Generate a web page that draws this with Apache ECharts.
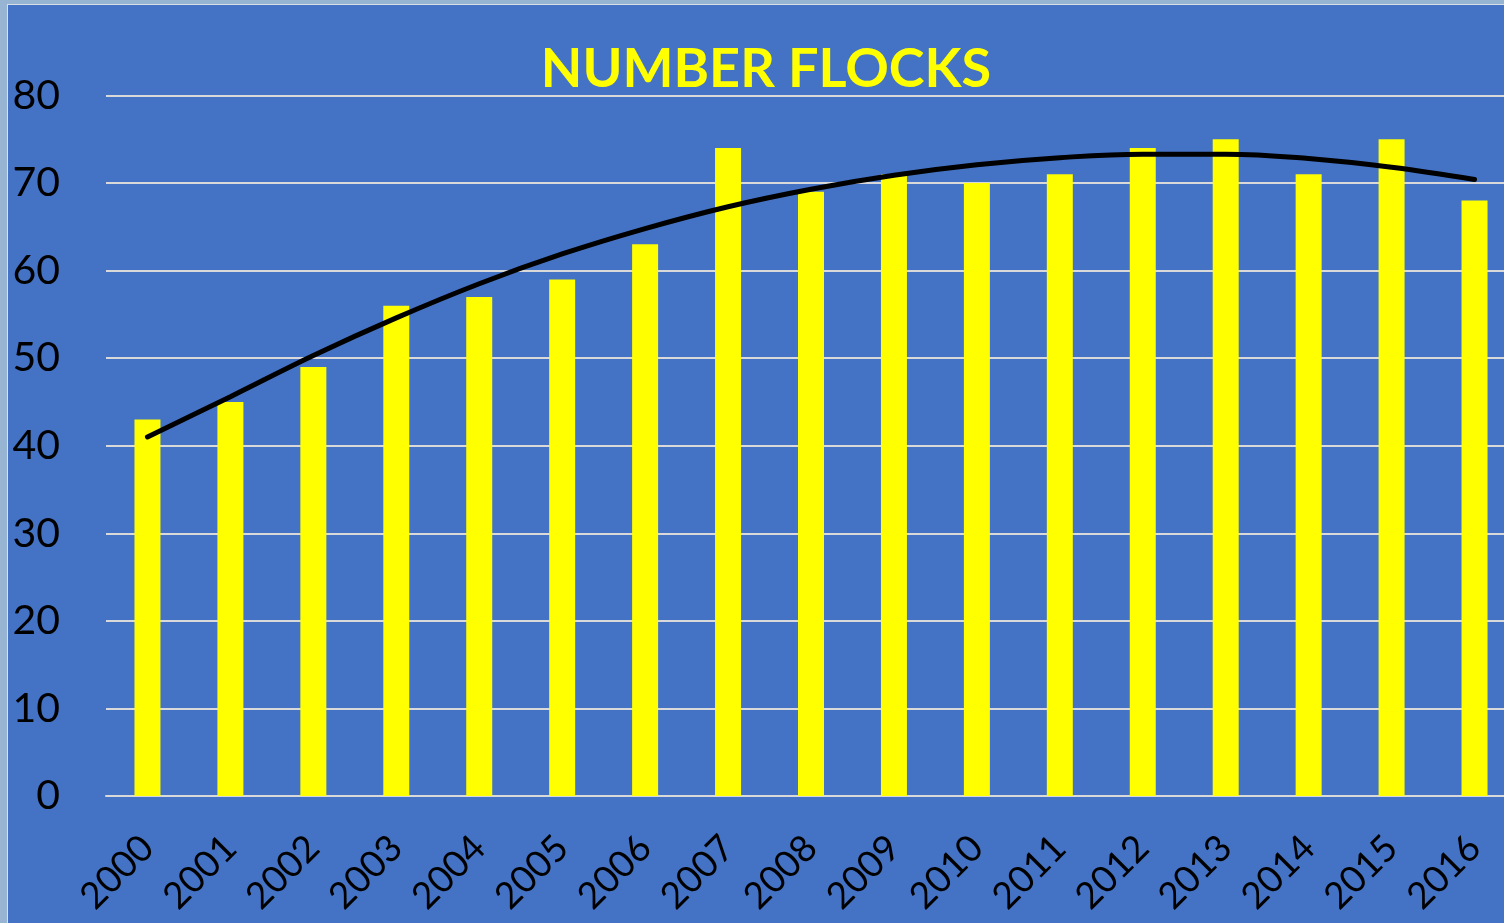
<!DOCTYPE html>
<html>
<head>
<meta charset="utf-8">
<script src="https://cdn.jsdelivr.net/npm/echarts@6/dist/echarts.min.js"></script>
<style>
  html, body { margin: 0; padding: 0; width: 1504px; height: 923px; overflow: hidden; background: #98b4d3; }
  #frame { position: absolute; left: 7px; top: 4px; width: 1530px; height: 930px; background: #d9dfe7; }
  #chart { position: absolute; left: 1px; top: 1px; width: 1529px; height: 929px; background: #4472C4; }
</style>
</head>
<body>
<div id="frame"><div id="chart"></div></div>
<script>
const categories = ['2000','2001','2002','2003','2004','2005','2006','2007','2008','2009','2010','2011','2012','2013','2014','2015','2016'];
const flocks = [43, 45, 49, 56, 57, 59, 63, 74, 69, 71, 70, 71, 74, 75, 71, 75, 68];
const trend = [41.0, 45.6, 50.3, 54.6, 58.5, 61.9, 64.8, 67.3, 69.3, 70.9, 72.1, 72.9, 73.3, 73.3, 72.8, 71.8, 70.4];
const yTicks = { min: 0, max: 80, interval: 10 };
const titleText = 'NUMBER FLOCKS';

const chart = echarts.init(document.getElementById('chart'), null, { renderer: 'canvas' });
chart.setOption({
  backgroundColor: '#4472C4',
  animation: false,
  title: {
    text: titleText,
    left: 753,
    top: 33,
    textAlign: 'center',
    textStyle: { color: '#FFFF00', fontFamily: 'Lato', fontWeight: 'bold', fontSize: 54 }
  },
  grid: { left: 98, right: 21, top: 90.5, bottom: 138, containLabel: false },
  xAxis: {
    type: 'category',
    data: categories,
    axisLine: { lineStyle: { color: '#d9d9d9', width: 2 } },
    axisTick: { show: false },
    axisLabel: { rotate: 45, margin: 46, color: '#000000', fontFamily: 'Lato', fontSize: 37, interval: 0 }
  },
  yAxis: {
    type: 'value',
    min: yTicks.min, max: yTicks.max, interval: yTicks.interval,
    axisLine: { show: false },
    axisTick: { show: false },
    splitLine: { lineStyle: { color: '#d9d9d9', width: 2 } },
    axisLabel: { margin: 46, color: '#000000', fontFamily: 'Lato', fontSize: 41 }
  },
  series: [
    {
      type: 'bar',
      data: flocks,
      barWidth: 26,
      itemStyle: { color: '#FFFF00' }
    },
    {
      type: 'line',
      data: trend,
      smooth: 0.4,
      symbol: 'none',
      lineStyle: { color: '#000000', width: 5, cap: 'round' },
      z: 5
    }
  ]
});
</script>
</body>
</html>
